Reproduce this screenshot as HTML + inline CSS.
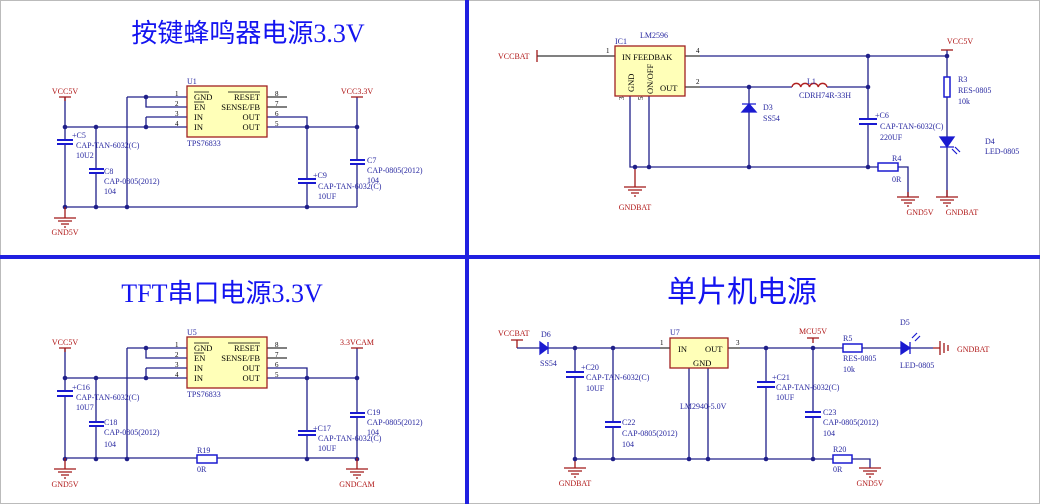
<!DOCTYPE html>
<html><head><meta charset="utf-8"><style>
html,body{margin:0;padding:0;background:#fff;}
svg{display:block;}
.w{stroke:#20208a;stroke-width:1.3;fill:none;}
.k{stroke:#000;stroke-width:1;fill:none;}
.r{stroke:#a01818;stroke-width:1.3;fill:none;}
.c{stroke:#1a1ad0;stroke-width:2;fill:none;}
.g{stroke:#fff;stroke-width:2.5;fill:none;}
.t{font-family:"Liberation Serif",serif;font-size:8px;fill:#2828a0;}
.rt{font-family:"Liberation Serif",serif;font-size:8px;fill:#b01818;}
.kt{font-family:"Liberation Serif",serif;font-size:7px;fill:#000;}
.it{font-family:"Liberation Serif",serif;font-size:8.5px;fill:#000;}
.ti{font-family:"Liberation Serif","Noto Sans CJK SC",sans-serif;fill:#1414f0;}
.ic{fill:#ffffb8;stroke:#a02020;stroke-width:1.3;}
</style></head><body>
<svg width="1040" height="504" viewBox="0 0 1040 504" xmlns="http://www.w3.org/2000/svg">
<defs>
<g id="dot"><circle r="2.3" fill="#20208a"/></g>
<g id="gnd"><path class="r" d="M-11,0H11M-7,3H7M-4,6H4M-1,9H1"/></g>
</defs>
<rect x="0.5" y="0.5" width="1039" height="503" fill="none" stroke="#bbb"/>
<rect x="465" y="0" width="4" height="504" fill="#2020e0"/>
<rect x="0" y="255" width="1040" height="4" fill="#2020e0"/>

<text class="ti" x="248" y="42" font-size="26" text-anchor="middle">按键蜂鸣器电源3.3V</text>
<text class="ti" x="222" y="302" font-size="26" text-anchor="middle">TFT串口电源3.3V</text>
<text class="ti" x="742" y="302" font-size="30" text-anchor="middle">单片机电源</text>

<!-- ===== TOP LEFT ===== -->
<g id="tl">
<path class="w" d="M65,97V207M65,127H187M146,97V107H187M146,117V127M146,117H187M127,97H187M127,97V207M96,127V207M65,207H357M267,117H307V207M267,127H357M357,97V207"/>
<path class="k" d="M267,97H287M267,107H287"/>
<rect class="ic" x="187" y="86" width="80" height="51"/>
<text class="it" x="194" y="100">GND</text><text class="it" x="194" y="110">EN</text><text class="it" x="194" y="120">IN</text><text class="it" x="194" y="130">IN</text>
<path d="M194,92H209M194,102H204M228,92H260" stroke="#000" stroke-width="0.7"/>
<text class="it" x="260" y="100" text-anchor="end">RESET</text><text class="it" x="260" y="110" text-anchor="end">SENSE/FB</text>
<text class="it" x="260" y="120" text-anchor="end">OUT</text><text class="it" x="260" y="130" text-anchor="end">OUT</text>
<text class="kt" x="175" y="96">1</text><text class="kt" x="175" y="106">2</text><text class="kt" x="175" y="116">3</text><text class="kt" x="175" y="126">4</text>
<text class="kt" x="275" y="96">8</text><text class="kt" x="275" y="106">7</text><text class="kt" x="275" y="116">6</text><text class="kt" x="275" y="126">5</text>
<path class="r" d="M59,97H71M65,97V101M351,97H363"/>
</g>
<use href="#dot" x="65" y="127"/><use href="#dot" x="96" y="127"/><use href="#dot" x="146" y="127"/><use href="#dot" x="146" y="97"/>
<use href="#dot" x="307" y="127"/><use href="#dot" x="357" y="127"/>
<use href="#dot" x="65" y="207"/><use href="#dot" x="96" y="207"/><use href="#dot" x="127" y="207"/><use href="#dot" x="307" y="207"/>
<use href="#gnd" x="65" y="218"/><path class="r" d="M65,207V218"/>
<text class="rt" x="65" y="94" text-anchor="middle">VCC5V</text>
<text class="rt" x="357" y="94" text-anchor="middle">VCC3.3V</text>
<text class="rt" x="65" y="235" text-anchor="middle">GND5V</text>
<text class="t" x="187" y="84">U1</text><text class="t" x="187" y="146">TPS76833</text>
<path class="g" d="M65,141V143M307,180V182M96,170V172M357,161V163"/>
<path class="c" d="M57,140H73M57,144H73M298,179H316M298,183H316M89,169H104M89,173H104M350,160H365M350,164H365"/>
<text class="t" x="72" y="138">+C5</text><text class="t" x="76" y="148">CAP-TAN-6032(C)</text><text class="t" x="76" y="158">10U2</text>
<text class="t" x="104" y="174">C8</text><text class="t" x="104" y="184">CAP-0805(2012)</text><text class="t" x="104" y="194">104</text>
<text class="t" x="313" y="178">+C9</text><text class="t" x="318" y="189">CAP-TAN-6032(C)</text><text class="t" x="318" y="199">10UF</text>
<text class="t" x="367" y="163">C7</text><text class="t" x="367" y="173">CAP-0805(2012)</text><text class="t" x="367" y="183">104</text>

<!-- ===== BOTTOM LEFT ===== -->
<g transform="translate(0,251)"><use href="#tl"/></g>
<use href="#dot" x="65" y="378"/><use href="#dot" x="96" y="378"/><use href="#dot" x="146" y="378"/><use href="#dot" x="146" y="348"/>
<use href="#dot" x="307" y="378"/><use href="#dot" x="357" y="378"/>
<use href="#dot" x="65" y="459"/><use href="#dot" x="96" y="459"/><use href="#dot" x="127" y="459"/><use href="#dot" x="307" y="459"/><use href="#dot" x="357" y="459"/>
<rect x="197" y="455" width="20" height="8" fill="#fff" stroke="#1a1ad0" stroke-width="1.5"/>
<path class="r" d="M65,458V469M357,458V469"/><use href="#gnd" x="65" y="469"/><use href="#gnd" x="357" y="469"/>
<text class="rt" x="65" y="345" text-anchor="middle">VCC5V</text>
<text class="rt" x="357" y="345" text-anchor="middle">3.3VCAM</text>
<text class="rt" x="65" y="487" text-anchor="middle">GND5V</text>
<text class="rt" x="357" y="487" text-anchor="middle">GNDCAM</text>
<text class="t" x="187" y="335">U5</text><text class="t" x="187" y="397">TPS76833</text>
<text class="t" x="197" y="453">R19</text><text class="t" x="197" y="472">0R</text>
<path class="g" d="M65,392V395M96,423V425M307,432V434M357,414V416"/>
<path class="c" d="M57,391H73M57,396H73M89,422H104M89,426H104M298,431H316M298,435H316M350,413H365M350,417H365"/>
<text class="t" x="72" y="390">+C16</text><text class="t" x="76" y="400">CAP-TAN-6032(C)</text><text class="t" x="76" y="410">10U7</text>
<text class="t" x="104" y="425">C18</text><text class="t" x="104" y="435">CAP-0805(2012)</text><text class="t" x="104" y="447">104</text>
<text class="t" x="313" y="431">+C17</text><text class="t" x="318" y="441">CAP-TAN-6032(C)</text><text class="t" x="318" y="451">10UF</text>
<text class="t" x="367" y="415">C19</text><text class="t" x="367" y="425">CAP-0805(2012)</text><text class="t" x="367" y="435">104</text>

<!-- ===== TOP RIGHT ===== -->
<path class="k" d="M537,56H615M685,56H700M685,87H700"/>
<path class="r" d="M537,50V62"/>
<path class="w" d="M700,56H947M700,87H792M827,87H868M868,56V167M749,87V167M630,96V167H878M649,96V167M898,167H908V197M947,50V77M947,97V137M947,147V197"/>
<path class="r" d="M635,167V187M908,192V197M947,190V197"/>
<use href="#gnd" x="635" y="187"/><use href="#gnd" x="908" y="197"/><use href="#gnd" x="947" y="197"/>
<path class="r" d="M941,50H953"/>
<rect class="ic" x="615" y="46" width="70" height="50"/>
<text class="it" x="622" y="60">IN  FEEDBAK</text>
<text class="it" x="660" y="91">OUT</text>
<text class="it" transform="translate(634,92) rotate(-90)">GND</text>
<text class="it" transform="translate(653,94) rotate(-90)">ON/OFF</text>
<text class="kt" x="606" y="53">1</text><text class="kt" x="696" y="53">4</text><text class="kt" x="696" y="84">2</text>
<text class="kt" transform="translate(624,100) rotate(-90)">3</text>
<text class="kt" transform="translate(643,100) rotate(-90)">5</text>
<text class="t" x="615" y="44">IC1</text><text class="t" x="640" y="38">LM2596</text>
<text class="rt" x="498" y="59">VCCBAT</text>
<text class="rt" x="960" y="44" text-anchor="middle">VCC5V</text>
<text class="rt" x="635" y="210" text-anchor="middle">GNDBAT</text>
<text class="rt" x="920" y="215" text-anchor="middle">GND5V</text>
<text class="rt" x="962" y="215" text-anchor="middle">GNDBAT</text>
<path d="M792,87a4.4,4 0 0 1 8.75,0a4.4,4 0 0 1 8.75,0a4.4,4 0 0 1 8.75,0a4.4,4 0 0 1 8.75,0" fill="none" stroke="#b02020" stroke-width="1.5"/>
<text class="t" x="807" y="84">L1</text><text class="t" x="799" y="98">CDRH74R-33H</text>
<path d="M742,104H756M749,104L742,112H756Z" fill="#1a1ad0" stroke="#1a1ad0" stroke-width="1.3"/>
<text class="t" x="763" y="110">D3</text><text class="t" x="763" y="121">SS54</text>
<path class="g" d="M868,120V123"/>
<path class="c" d="M859,119H877M859,124H877"/>
<text class="t" x="875" y="118">+C6</text><text class="t" x="880" y="129">CAP-TAN-6032(C)</text><text class="t" x="880" y="140">220UF</text>
<rect x="878" y="163" width="20" height="8" fill="#fff" stroke="#1a1ad0" stroke-width="1.5"/>
<text class="t" x="892" y="161">R4</text><text class="t" x="892" y="182">0R</text>
<rect x="944" y="77" width="6" height="20" fill="#fff" stroke="#1a1ad0" stroke-width="1.5"/>
<text class="t" x="958" y="82">R3</text><text class="t" x="958" y="93">RES-0805</text><text class="t" x="958" y="104">10k</text>
<path d="M940,137H954L947,147ZM940,147H954" fill="#1a1ad0" stroke="#1a1ad0" stroke-width="1.3"/>
<path d="M952,149l5,5M955,147l5,5" stroke="#1a1ad0" stroke-width="1.2"/>
<text class="t" x="985" y="144">D4</text><text class="t" x="985" y="154">LED-0805</text>
<use href="#dot" x="868" y="56"/><use href="#dot" x="947" y="56"/><use href="#dot" x="749" y="87"/><use href="#dot" x="868" y="87"/>
<use href="#dot" x="635" y="167"/><use href="#dot" x="649" y="167"/><use href="#dot" x="749" y="167"/><use href="#dot" x="868" y="167"/>

<!-- ===== BOTTOM RIGHT ===== -->
<path class="r" d="M511,340H523M517,340V348"/>
<path class="w" d="M517,348H540M548,348H660M740,348H843M862,348H901M910,348H933M575,348V459H833M613,348V459M689,368V459M708,368V459M766,348V459M813,348V459M852,459H870V468"/>
<path class="k" d="M660,348H670M728,348H740"/>
<path class="r" d="M933,348H940M940,341V355M944,343V353M948,345V351"/>
<path class="r" d="M575,459V468M807,338H819M813,338V343"/>
<use href="#gnd" x="575" y="468"/><use href="#gnd" x="870" y="468"/>
<path d="M540,342V354L548,348ZM548,342V354" fill="#1a1ad0" stroke="#1a1ad0" stroke-width="1.3"/>
<path d="M901,342V354L910,348ZM910,342V354" fill="#1a1ad0" stroke="#1a1ad0" stroke-width="1.3"/>
<path d="M912,338l5,-5M915,341l5,-5" stroke="#1a1ad0" stroke-width="1.2"/>
<rect class="ic" x="670" y="338" width="58" height="30"/>
<text class="it" x="678" y="352">IN</text><text class="it" x="705" y="352">OUT</text><text class="it" x="693" y="366">GND</text>
<text class="kt" x="660" y="345">1</text><text class="kt" x="736" y="345">3</text>
<text class="t" x="670" y="335">U7</text><text class="t" x="680" y="409">LM2940-5.0V</text>
<rect x="843" y="344" width="19" height="8" fill="#fff" stroke="#1a1ad0" stroke-width="1.5"/>
<rect x="833" y="455" width="19" height="8" fill="#fff" stroke="#1a1ad0" stroke-width="1.5"/>
<path class="g" d="M575,373V376M613,423V426M766,383V386M813,413V416"/>
<path class="c" d="M566,372H584M566,377H584M605,422H621M605,427H621M757,382H775M757,387H775M805,412H821M805,417H821"/>
<text class="rt" x="498" y="336">VCCBAT</text>
<text class="rt" x="813" y="334" text-anchor="middle">MCU5V</text>
<text class="rt" x="957" y="352">GNDBAT</text>
<text class="rt" x="575" y="486" text-anchor="middle">GNDBAT</text>
<text class="rt" x="870" y="486" text-anchor="middle">GND5V</text>
<text class="t" x="541" y="337">D6</text><text class="t" x="540" y="366">SS54</text>
<text class="t" x="900" y="325">D5</text><text class="t" x="900" y="368">LED-0805</text>
<text class="t" x="843" y="341">R5</text><text class="t" x="843" y="361">RES-0805</text><text class="t" x="843" y="372">10k</text>
<text class="t" x="833" y="452">R20</text><text class="t" x="833" y="472">0R</text>
<text class="t" x="581" y="370">+C20</text><text class="t" x="586" y="380">CAP-TAN-6032(C)</text><text class="t" x="586" y="391">10UF</text>
<text class="t" x="622" y="425">C22</text><text class="t" x="622" y="436">CAP-0805(2012)</text><text class="t" x="622" y="447">104</text>
<text class="t" x="772" y="380">+C21</text><text class="t" x="776" y="390">CAP-TAN-6032(C)</text><text class="t" x="776" y="400">10UF</text>
<text class="t" x="823" y="415">C23</text><text class="t" x="823" y="425">CAP-0805(2012)</text><text class="t" x="823" y="436">104</text>
<use href="#dot" x="575" y="348"/><use href="#dot" x="613" y="348"/><use href="#dot" x="766" y="348"/><use href="#dot" x="813" y="348"/>
<use href="#dot" x="575" y="459"/><use href="#dot" x="613" y="459"/><use href="#dot" x="689" y="459"/><use href="#dot" x="708" y="459"/><use href="#dot" x="766" y="459"/><use href="#dot" x="813" y="459"/>
</svg>
</body></html>
